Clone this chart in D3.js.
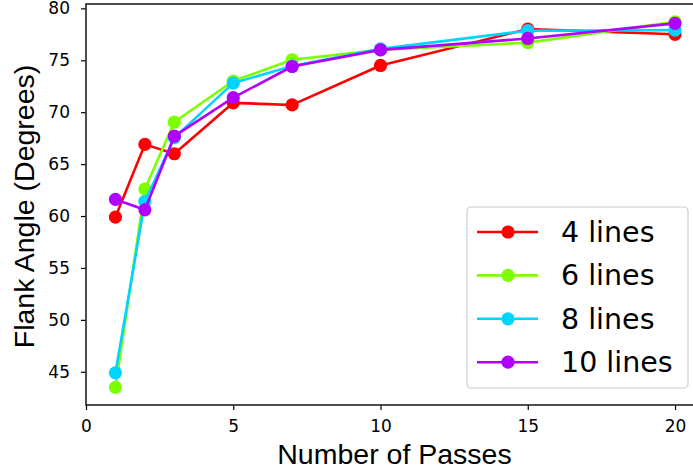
<!DOCTYPE html>
<html>
<head>
<meta charset="utf-8">
<script src="https://cdn.jsdelivr.net/npm/d3@7"></script>
<style>
  body { margin: 0; background: #fff; }
  svg { display: block; }
</style>
</head>
<body>
<svg id="chart" width="693" height="476"></svg>
<script>
// Flank angle vs. number of passes for different line counts
const passes = [1, 2, 3, 5, 7, 10, 15, 20];
const seriesNames = ["4 lines", "6 lines", "8 lines", "10 lines"];
const lines4 = [59.9, 66.9, 66.0, 70.9, 70.7, 74.5, 78.0, 77.5];
const lines6 = [43.5, 62.6, 69.05, 73.0, 75.05, 76.0, 76.7, 78.7];
const lines8 = [44.9, 61.4, 67.55, 72.8, 74.45, 76.1, 77.85, 77.9];
const lines10 = [61.6, 60.6, 67.7, 71.4, 74.4, 76.0, 77.1, 78.55];
const seriesColors = ["#ff0000", "#7cff00", "#00d5ff", "#b000ff"];
const xTicks = [0, 5, 10, 15, 20];
const yTicks = [45, 50, 55, 60, 65, 70, 75, 80];

const seriesValues = [lines4, lines6, lines8, lines10];

const svg = d3.select("#chart");
const plotLeft = 86, plotRight = 703, plotTop = 4, plotBottom = 405;

const x = d3.scaleLinear().domain([0, 20.95]).range([plotLeft, plotRight]);
const y = d3.scaleLinear().domain([41.8, 80.42]).range([plotBottom, plotTop]);

svg.append("defs").append("clipPath").attr("id", "plotClip")
  .append("rect").attr("x", plotLeft).attr("y", plotTop)
  .attr("width", plotRight - plotLeft).attr("height", plotBottom - plotTop);

// Axes
const xAxis = svg.append("g").attr("transform", `translate(0,${plotBottom})`)
  .call(d3.axisBottom(x).tickValues(xTicks).tickSize(5).tickPadding(4).tickFormat(d3.format("d")));
const yAxis = svg.append("g").attr("transform", `translate(${plotLeft},0)`)
  .call(d3.axisLeft(y).tickValues(yTicks).tickSize(5).tickPadding(11).tickFormat(d3.format("d")));

[xAxis, yAxis].forEach(g => {
  g.select(".domain").remove();
  g.selectAll(".tick line").attr("stroke", "#000").attr("stroke-width", 1.2);
  g.selectAll(".tick text")
    .attr("font-family", "DejaVu Sans")
    .attr("font-size", 17)
    .attr("fill", "#000");
});
xAxis.selectAll(".tick text").attr("dy", "1.08em");

// Series lines and markers
const plot = svg.append("g").attr("clip-path", "url(#plotClip)");
const line = d3.line().x((d, i) => x(passes[i])).y(d => y(d));

seriesValues.forEach((vals, s) => {
  const g = plot.append("g");
  g.append("path").datum(vals)
    .attr("d", line)
    .attr("fill", "none")
    .attr("stroke", seriesColors[s])
    .attr("stroke-width", 2.6)
    .attr("stroke-linejoin", "round");
  g.selectAll("circle").data(vals).join("circle")
    .attr("cx", (d, i) => x(passes[i]))
    .attr("cy", d => y(d))
    .attr("r", 6.6)
    .attr("fill", seriesColors[s]);
});

// Frame
svg.append("rect")
  .attr("x", plotLeft).attr("y", plotTop)
  .attr("width", plotRight - plotLeft).attr("height", plotBottom - plotTop)
  .attr("fill", "none").attr("stroke", "#222").attr("stroke-width", 1.6);

// Axis titles
svg.append("text")
  .attr("x", (plotLeft + plotRight) / 2).attr("y", 463.5)
  .attr("text-anchor", "middle")
  .attr("font-family", "Liberation Sans, Arial, sans-serif")
  .attr("font-size", 28.5)
  .text("Number of Passes");

svg.append("text")
  .attr("transform", `translate(34,${(plotTop + plotBottom) / 2 + 2}) rotate(-90)`)
  .attr("text-anchor", "middle")
  .attr("font-family", "Liberation Sans, Arial, sans-serif")
  .attr("font-size", 28.5)
  .text("Flank Angle (Degrees)");

// Legend
const legend = svg.append("g");
legend.append("rect")
  .attr("x", 467).attr("y", 207).attr("width", 221).attr("height", 181)
  .attr("rx", 4).attr("ry", 4)
  .attr("fill", "#fff").attr("fill-opacity", 0.8)
  .attr("stroke", "#cccccc").attr("stroke-width", 1.2);

seriesNames.forEach((name, s) => {
  const cy = 232 + s * 43.4;
  legend.append("line")
    .attr("x1", 477).attr("x2", 538).attr("y1", cy).attr("y2", cy)
    .attr("stroke", seriesColors[s]).attr("stroke-width", 2.6);
  legend.append("circle")
    .attr("cx", 508).attr("cy", cy).attr("r", 6.6)
    .attr("fill", seriesColors[s]);
  legend.append("text")
    .attr("x", 561).attr("y", cy + 10)
    .attr("font-family", "DejaVu Sans")
    .attr("font-size", 28.5)
    .attr("fill", "#000")
    .text(name);
});
</script>
</body>
</html>
